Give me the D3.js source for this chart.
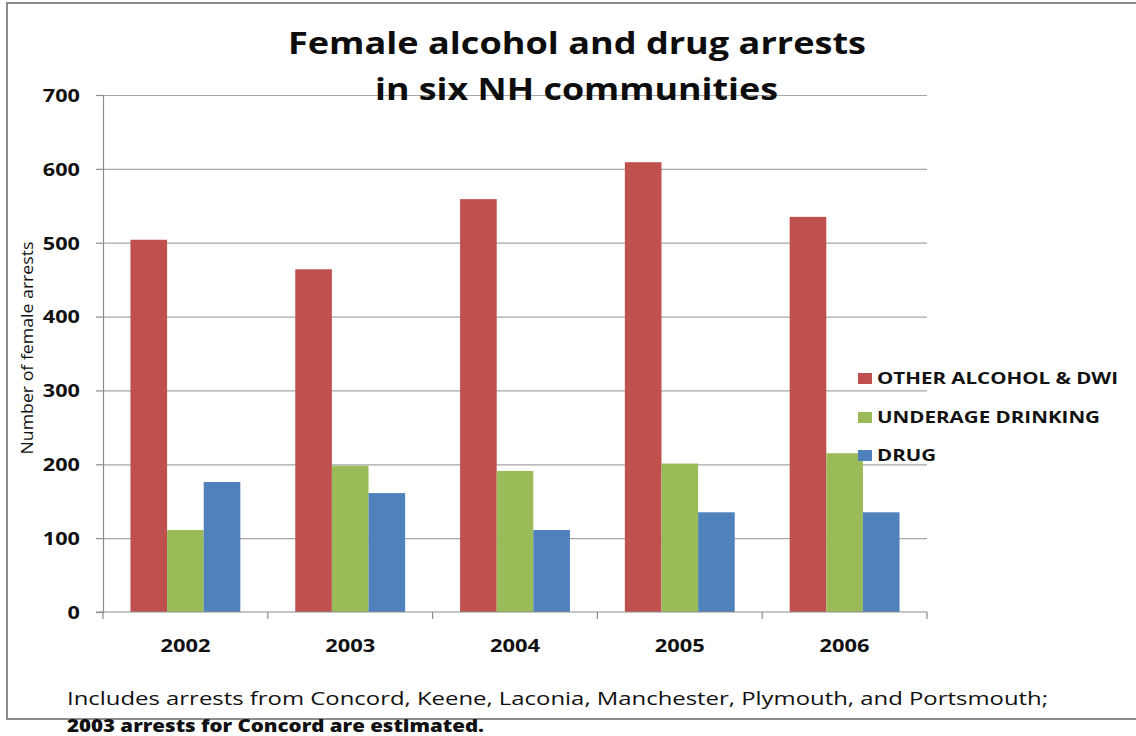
<!DOCTYPE html>
<html>
<head>
<meta charset="utf-8">
<script src="https://cdn.jsdelivr.net/npm/d3@7/dist/d3.min.js"></script>
<style>
  html, body { margin: 0; padding: 0; background: #ffffff; }
  svg { display: block; }
  text { font-family: "Open Sans", "Noto Sans", sans-serif; }
</style>
</head>
<body>
<svg id="chart" width="1136" height="736"></svg>
<script>
const categories = ["2002", "2003", "2004", "2005", "2006"];
const seriesNames = ["OTHER ALCOHOL & DWI", "UNDERAGE DRINKING", "DRUG"];
const otherAlcoholDwi = [504, 464, 559, 609, 535];
const underageDrinking = [111, 198, 191, 201, 215];
const drugArrests = [176, 161, 111, 135, 135];
const seriesColors = ["#C0504D", "#9BBB59", "#4F81BD"];
const yTicks = [0, 100, 200, 300, 400, 500, 600, 700];
const titleLines = ["Female alcohol and drug arrests", "in six NH communities"];
const yTitle = "Number of female arrests";
const footLines = [
  "Includes arrests from Concord,  Keene, Laconia, Manchester, Plymouth, and Portsmouth;",
  "2003 arrests for Concord are estimated."
];

const seriesValues = [otherAlcoholDwi, underageDrinking, drugArrests];
const svg = d3.select("#chart");

const plot = { left: 103, right: 927, top: 95, bottom: 612 };

// outer border
svg.append("rect")
  .attr("x", 7).attr("y", 3)
  .attr("width", 1140).attr("height", 716)
  .attr("fill", "#ffffff")
  .attr("stroke", "#8c8c8c").attr("stroke-width", 2);

const x = d3.scaleBand().domain(categories).range([plot.left, plot.right]).padding(0);
const xInner = d3.scaleBand().domain(seriesNames).range([0, x.bandwidth()]).paddingInner(0).paddingOuter(0.75);
const y = d3.scaleLinear().domain([0, 700]).range([plot.bottom, plot.top]);

// gridlines
const grid = svg.append("g").attr("transform", `translate(${plot.left},0)`)
  .call(d3.axisLeft(y).tickValues(yTicks.filter(d => d > 0)).tickSize(-(plot.right - plot.left)).tickFormat(""));
grid.select(".domain").remove();
grid.selectAll("line").attr("stroke", "#a6a6a6").attr("stroke-width", 1.2);

// bars
const groups = svg.append("g").selectAll("g")
  .data(categories)
  .join("g")
  .attr("transform", d => `translate(${x(d)},0)`);

groups.selectAll("rect")
  .data((c, i) => seriesNames.map((s, j) => ({ s, j, v: seriesValues[j][i] })))
  .join("rect")
  .attr("x", d => xInner(d.s))
  .attr("width", xInner.bandwidth())
  .attr("y", d => y(d.v))
  .attr("height", d => y(0) - y(d.v))
  .attr("fill", d => seriesColors[d.j]);

// y axis
const yAxis = svg.append("g").attr("transform", `translate(${plot.left},0)`)
  .call(d3.axisLeft(y).tickValues(yTicks).tickSize(7).tickPadding(16));
yAxis.select(".domain").attr("stroke", "#8c8c8c").attr("stroke-width", 1.2);
yAxis.selectAll("line").attr("stroke", "#8c8c8c").attr("stroke-width", 1.2);
yAxis.selectAll("text")
  .attr("fill", "#111").attr("font-size", 17.5).attr("font-weight", 700)
  .attr("dy", "0.36em")
  .attr("textLength", d => String(d).length * 12.4)
  .attr("lengthAdjust", "spacingAndGlyphs")
  .style("font-family", "'Open Sans', sans-serif");

// x axis
svg.append("line")
  .attr("x1", plot.left - 7).attr("x2", plot.right)
  .attr("y1", plot.bottom).attr("y2", plot.bottom)
  .attr("stroke", "#8c8c8c").attr("stroke-width", 1.2);
const boundaries = categories.map(c => x(c)).concat([x(categories[categories.length - 1]) + x.bandwidth()]);
svg.append("g").selectAll("line")
  .data(boundaries)
  .join("line")
  .attr("x1", d => d).attr("x2", d => d)
  .attr("y1", plot.bottom).attr("y2", plot.bottom + 7)
  .attr("stroke", "#8c8c8c").attr("stroke-width", 1.2);
svg.append("g").selectAll("text")
  .data(categories)
  .join("text")
  .attr("x", d => x(d) + x.bandwidth() / 2 - 25)
  .attr("y", 652)
  .attr("font-size", 18).attr("font-weight", 700).attr("fill", "#111")
  .attr("textLength", 50).attr("lengthAdjust", "spacingAndGlyphs")
  .text(d => d);

// y title
svg.append("text")
  .attr("transform", "translate(33,348) rotate(-90)")
  .attr("text-anchor", "middle")
  .attr("font-size", 17).attr("fill", "#111")
  .attr("textLength", 213).attr("lengthAdjust", "spacingAndGlyphs")
  .text(yTitle);

// title
const titleY = [54, 100];
const titleX = [[288, 578], [375, 403]];
svg.append("g").selectAll("text")
  .data(titleLines)
  .join("text")
  .attr("x", (d, i) => titleX[i][0])
  .attr("y", (d, i) => titleY[i])
  .attr("font-size", 31).attr("font-weight", 700).attr("fill", "#0d0d0d")
  .attr("textLength", (d, i) => titleX[i][1])
  .attr("lengthAdjust", "spacingAndGlyphs")
  .text(d => d);

// legend
const legendRowsY = [384, 423, 461];
const legendWidths = [241, 223, 59];
const legend = svg.append("g").selectAll("g")
  .data(seriesNames)
  .join("g")
  .attr("transform", (d, i) => `translate(858,${legendRowsY[i]})`);
legend.append("rect")
  .attr("x", 0).attr("y", -11).attr("width", 14).attr("height", 11)
  .attr("fill", (d, i) => seriesColors[i]);
legend.append("text")
  .attr("x", 19).attr("y", 0)
  .attr("font-size", 16.5).attr("font-weight", 700).attr("fill", "#111")
  .attr("textLength", (d, i) => legendWidths[i])
  .attr("lengthAdjust", "spacingAndGlyphs")
  .text(d => d);

// footnote
svg.append("text")
  .attr("x", 67).attr("y", 705)
  .attr("font-size", 18).attr("fill", "#111")
  .attr("textLength", 981).attr("lengthAdjust", "spacingAndGlyphs")
  .text(footLines[0]);
svg.append("text")
  .attr("x", 67).attr("y", 732)
  .attr("font-size", 17).attr("font-weight", 800).attr("fill", "#111")
  .attr("textLength", 417).attr("lengthAdjust", "spacingAndGlyphs")
  .text(footLines[1]);
</script>
</body>
</html>
